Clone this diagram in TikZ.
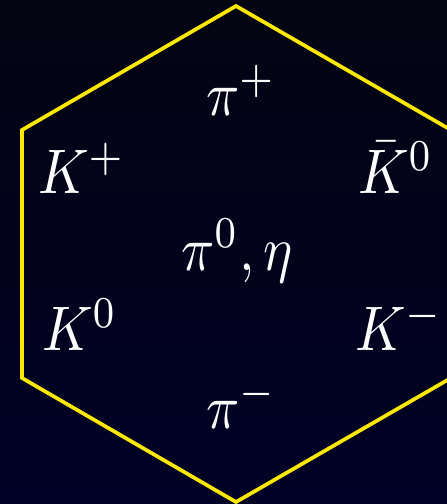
\documentclass[tikz,border=0pt]{standalone}
\usepackage{xcolor}
\usepackage{tikz}
\usetikzlibrary{positioning,calc}

\definecolor{octetyellow}{RGB}{255,232,0}
\definecolor{skytop}{RGB}{4,4,18}
\definecolor{skybottom}{RGB}{0,0,38}

\begin{document}
\begin{tikzpicture}[
    x=1pt, y=-1pt,
    particle/.style={
        text=white, inner sep=0pt, anchor=base west,
        xscale=5.5, yscale=6.3
    },
    hexedge/.style={
        draw=octetyellow, line width=3.7pt, line join=miter
    }
]

% — Background —
\fill[top color=skytop, bottom color=skybottom] (0,0) rectangle (447,504);
\useasboundingbox (0,0) rectangle (447,504);

% — Octet hexagon —
\coordinate (top)   at (236,6);
\coordinate (ul)    at (22,130);
\coordinate (ll)    at (22,378);
\coordinate (bot)   at (236,502);
\coordinate (lr)    at (451,378);
\coordinate (ur)    at (451,130);
\draw[hexedge] (top) -- (ul) -- (ll) -- (bot) -- (lr) -- (ur) -- cycle;

% — Mesons —
\node[particle] (piplus)   at (205,115) {$\pi^+$};
\node[particle] (kplus)    at (37,193)  {$K^+$};
\node[particle] (kzerobar) at (357,193) {$\bar{K}^0$};
\node[particle] (pizero)   at (180,270) {$\pi^0,\eta$};
\node[particle] (kzero)    at (41,350)  {$K^0$};
\node[particle] (kminus)   at (354,350) {$K^-$};
\node[particle] (piminus)  at (205,428) {$\pi^-$};

\end{tikzpicture}
\end{document}
